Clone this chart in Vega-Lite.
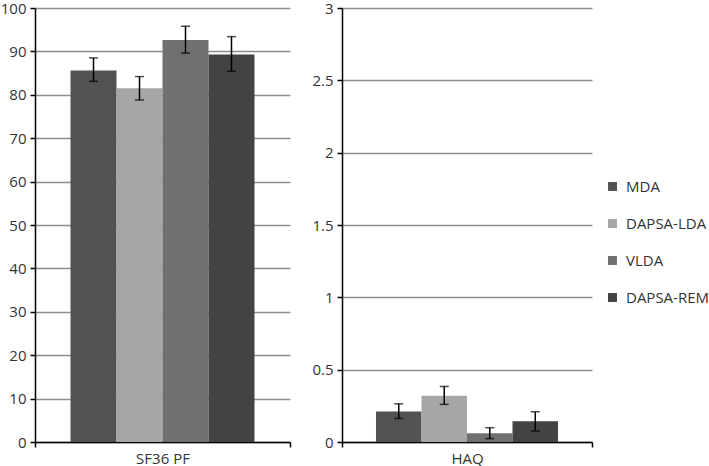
{
  "$schema": "https://vega.github.io/schema/vega-lite/v6.json",
  "padding": {"left": 0, "top": 1, "right": 0, "bottom": 0},
  "background": "white",
  "config": {
    "font": "Open Sans",
    "view": {"stroke": null},
    "axis": {"labelFont": "Open Sans", "labelFontSize": 15, "labelColor": "#333333", "domainColor": "#000000", "tickColor": "#000000", "domainWidth": 1.5, "tickWidth": 1.5},
    "legend": {"labelFont": "Open Sans"}
  },
  "data": {"values": [
    {"measure": "SF36 PF", "group": "MDA", "mean": 85.6, "lo": 83.1, "hi": 88.5},
    {"measure": "SF36 PF", "group": "DAPSA-LDA", "mean": 81.5, "lo": 78.8, "hi": 84.2},
    {"measure": "SF36 PF", "group": "VLDA", "mean": 92.6, "lo": 89.6, "hi": 95.8},
    {"measure": "SF36 PF", "group": "DAPSA-REM", "mean": 89.3, "lo": 85.4, "hi": 93.4},
    {"measure": "HAQ", "group": "MDA", "mean": 0.21, "lo": 0.163, "hi": 0.264},
    {"measure": "HAQ", "group": "DAPSA-LDA", "mean": 0.319, "lo": 0.26, "hi": 0.384},
    {"measure": "HAQ", "group": "VLDA", "mean": 0.06, "lo": 0.023, "hi": 0.099},
    {"measure": "HAQ", "group": "DAPSA-REM", "mean": 0.143, "lo": 0.076, "hi": 0.209}
  ]},
  "spacing": 20,
  "hconcat": [
    {
      "width": 255, "height": 434,
      "transform": [{"filter": "datum.measure === 'SF36 PF'"}],
      "encoding": {
        "x": {"field": "measure", "type": "nominal", "title": null, "scale": {"paddingInner": 0, "paddingOuter": 0},
              "axis": {"labelAngle": 0, "tickBand": "extent", "tickSize": 5, "labelPadding": 4}},
        "xOffset": {"field": "group", "type": "nominal", "sort": ["MDA", "DAPSA-LDA", "VLDA", "DAPSA-REM"], "scale": {"paddingInner": 0, "paddingOuter": 0.772}}
      },
      "layer": [
        {"mark": {"type": "bar"},
         "encoding": {
           "y": {"field": "mean", "type": "quantitative", "title": null,
                 "scale": {"domain": [0, 100], "nice": false},
                 "axis": {"values": [0,10,20,30,40,50,60,70,80,90,100], "grid": true, "gridColor": "#8c8c8c", "gridWidth": 1.5, "tickSize": 5, "labelPadding": 4}},
           "color": {"field": "group", "type": "nominal", "sort": ["MDA", "DAPSA-LDA", "VLDA", "DAPSA-REM"],
                     "scale": {"domain": ["MDA", "DAPSA-LDA", "VLDA", "DAPSA-REM"], "range": ["#525252", "#a6a6a6", "#707070", "#434343"]},
                     "legend": {"title": null, "orient": "none", "legendX": 570, "legendY": 171, "symbolType": "square", "symbolSize": 80, "symbolStrokeWidth": 0,
                                "labelFontSize": 15, "labelColor": "#333333", "rowPadding": 21, "labelOffset": 6, "padding": 0}}
         }},
        {"mark": {"type": "rule", "color": "#000000", "strokeWidth": 1.5},
         "encoding": {"y": {"field": "lo", "type": "quantitative"}, "y2": {"field": "hi"}}},
        {"mark": {"type": "tick", "color": "#000000", "size": 9, "thickness": 1.5},
         "encoding": {"y": {"field": "lo", "type": "quantitative"}}},
        {"mark": {"type": "tick", "color": "#000000", "size": 9, "thickness": 1.5},
         "encoding": {"y": {"field": "hi", "type": "quantitative"}}}
      ]
    },
    {
      "width": 250, "height": 434,
      "transform": [{"filter": "datum.measure === 'HAQ'"}],
      "encoding": {
        "x": {"field": "measure", "type": "nominal", "title": null, "scale": {"paddingInner": 0, "paddingOuter": 0},
              "axis": {"labelAngle": 0, "tickBand": "extent", "tickSize": 5, "labelPadding": 4}},
        "xOffset": {"field": "group", "type": "nominal", "sort": ["MDA", "DAPSA-LDA", "VLDA", "DAPSA-REM"], "scale": {"paddingInner": 0, "paddingOuter": 0.747}}
      },
      "layer": [
        {"mark": {"type": "bar"},
         "encoding": {
           "y": {"field": "mean", "type": "quantitative", "title": null,
                 "scale": {"domain": [0, 3], "nice": false},
                 "axis": {"values": [0,0.5,1,1.5,2,2.5,3], "format": "~g", "grid": true, "gridColor": "#8c8c8c", "gridWidth": 1.5, "tickSize": 5, "labelPadding": 4}},
           "color": {"field": "group", "type": "nominal", "sort": ["MDA", "DAPSA-LDA", "VLDA", "DAPSA-REM"],
                     "scale": {"domain": ["MDA", "DAPSA-LDA", "VLDA", "DAPSA-REM"], "range": ["#525252", "#a6a6a6", "#707070", "#434343"]},
                     "legend": {"title": null, "orient": "none", "legendX": 570, "legendY": 171, "symbolType": "square", "symbolSize": 80, "symbolStrokeWidth": 0,
                                "labelFontSize": 15, "labelColor": "#333333", "rowPadding": 21, "labelOffset": 6, "padding": 0}}
         }},
        {"mark": {"type": "rule", "color": "#000000", "strokeWidth": 1.5},
         "encoding": {"y": {"field": "lo", "type": "quantitative"}, "y2": {"field": "hi"}}},
        {"mark": {"type": "tick", "color": "#000000", "size": 9, "thickness": 1.5},
         "encoding": {"y": {"field": "lo", "type": "quantitative"}}},
        {"mark": {"type": "tick", "color": "#000000", "size": 9, "thickness": 1.5},
         "encoding": {"y": {"field": "hi", "type": "quantitative"}}}
      ]
    }
  ],
  "resolve": {"scale": {"y": "independent", "x": "independent", "xOffset": "independent"}}
}
